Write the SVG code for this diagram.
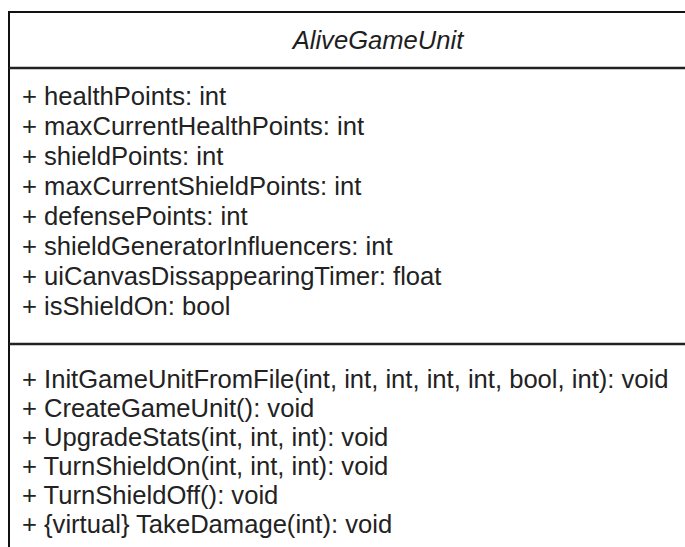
<svg xmlns="http://www.w3.org/2000/svg" width="685" height="547" viewBox="0 0 685 547">
  <style>
    .frame { fill: #ffffff; stroke: #111111; stroke-width: 2; }
    .sep { stroke: #222222; stroke-width: 2.5; }
    .title { font-family: "Liberation Sans", Arial, sans-serif; font-size: 25.6px; font-style: italic; fill: #1e1e1e; }
    .member { font-family: "Liberation Sans", Arial, sans-serif; font-size: 25.6px; fill: #222222; }
  </style>
  <rect width="685" height="547" fill="#ffffff"/>
  <!-- class box, wider and taller than the visible area -->
  <g id="AliveGameUnit">
    <rect class="frame" x="9" y="12" width="760" height="600"/>
    <line class="sep" x1="9" y1="68" x2="769" y2="68"/>
    <line class="sep" x1="9" y1="344" x2="769" y2="344"/>
    <text class="title" x="378" y="49" text-anchor="middle">AliveGameUnit</text>
    <g id="attributes">
      <text class="member" x="22" y="105">+ healthPoints: int</text>
      <text class="member" x="22" y="135">+ maxCurrentHealthPoints: int</text>
      <text class="member" x="22" y="165">+ shieldPoints: int</text>
      <text class="member" x="22" y="195">+ maxCurrentShieldPoints: int</text>
      <text class="member" x="22" y="225">+ defensePoints: int</text>
      <text class="member" x="22" y="255">+ shieldGeneratorInfluencers: int</text>
      <text class="member" x="22" y="285">+ uiCanvasDissappearingTimer: float</text>
      <text class="member" x="22" y="315">+ isShieldOn: bool</text>
    </g>
    <g id="operations">
      <text class="member" x="22" y="388">+ InitGameUnitFromFile(int, int, int, int, int, bool, int): void</text>
      <text class="member" x="22" y="417">+ CreateGameUnit(): void</text>
      <text class="member" x="22" y="446">+ UpgradeStats(int, int, int): void</text>
      <text class="member" x="22" y="475">+ TurnShieldOn(int, int, int): void</text>
      <text class="member" x="22" y="504">+ TurnShieldOff(): void</text>
      <text class="member" x="22" y="533">+ {virtual} TakeDamage(int): void</text>
    </g>
  </g>
</svg>
